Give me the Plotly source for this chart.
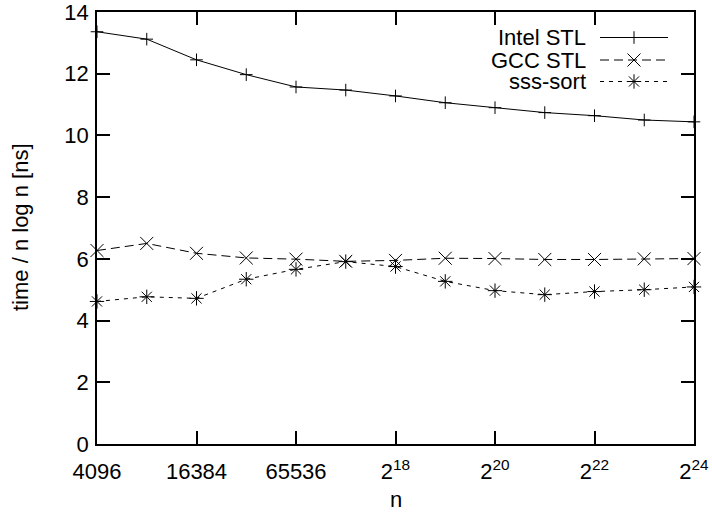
import math
import plotly.graph_objects as go

# ---- data ----
log2_n = [12, 13, 14, 15, 16, 17, 18, 19, 20, 21, 22, 23, 24]
n_values = [2 ** k for k in log2_n]
intel_stl = [13.36, 13.12, 12.45, 11.97, 11.57, 11.47, 11.28, 11.06, 10.90, 10.74, 10.64, 10.50, 10.44]
gcc_stl = [6.27, 6.50, 6.18, 6.03, 5.99, 5.92, 5.95, 6.02, 6.01, 5.98, 5.98, 6.00, 6.01]
sss_sort = [4.62, 4.77, 4.72, 5.34, 5.66, 5.91, 5.75, 5.27, 4.97, 4.84, 4.94, 5.00, 5.09]

x_tickvals = [4096, 16384, 65536, 2 ** 18, 2 ** 20, 2 ** 22, 2 ** 24]
x_ticktext = ["4096", "16384", "65536", "2<sup>18</sup>", "2<sup>20</sup>", "2<sup>22</sup>", "2<sup>24</sup>"]
y_tickvals = [0, 2, 4, 6, 8, 10, 12, 14]

series = [
    ("Intel STL", intel_stl, "solid", "cross-thin", 9),
    ("GCC STL", gcc_stl, "9px,5px", "x-thin", 13),
    ("sss-sort", sss_sort, "4px,5px", "asterisk", 12),
]

W, H = 712, 512
L, R, T, B = 97, 18, 12, 68
PW, PH = W - L - R, H - T - B
FONT = "Liberation Sans, Arial, Helvetica, sans-serif"
FS = 22

fig = go.Figure()
for name, vals, dash, sym, sz in series:
    fig.add_trace(go.Scatter(
        x=n_values, y=vals, mode="lines+markers", name=name,
        line=dict(color="black", width=1, dash=dash),
        marker=dict(symbol=sym, size=sz, color="black",
                    line=dict(color="black", width=1)),
        showlegend=False, cliponaxis=False,
    ))

# ---- gnuplot-style legend on a pixel overlay axis ----
leg_y = [37.5, 60, 81.5]
for (name, vals, dash, sym, sz), yy in zip(series, leg_y):
    fig.add_trace(go.Scatter(
        x=[600, 668], y=[yy, yy], mode="lines", xaxis="x2", yaxis="y2",
        line=dict(color="black", width=1, dash=dash), showlegend=False, hoverinfo="skip",
    ))
    fig.add_trace(go.Scatter(
        x=[634], y=[yy], mode="markers", xaxis="x2", yaxis="y2",
        marker=dict(symbol=sym, size=sz, color="black", line=dict(color="black", width=1)),
        showlegend=False, hoverinfo="skip",
    ))
    fig.add_annotation(x=588, y=yy, xref="x2", yref="y2", text=name, showarrow=False,
                       xanchor="right", yanchor="middle",
                       font=dict(family=FONT, size=FS, color="black"))

# axis titles placed as gnuplot does
fig.add_annotation(x=0.5, y=(H - B - 500) / PH, xref="paper", yref="paper", text="n",
                   showarrow=False, xanchor="center", yanchor="middle",
                   font=dict(family=FONT, size=FS, color="black"))
fig.add_annotation(x=(20 - L) / PW, y=(H - B - 227) / PH, xref="paper", yref="paper",
                   text="time / n log n [ns]", showarrow=False, textangle=-90,
                   xanchor="center", yanchor="middle",
                   font=dict(family=FONT, size=FS, color="black"))

axis_common = dict(
    showline=True, linecolor="black", linewidth=1.5, mirror="ticks",
    ticks="inside", ticklen=13, tickwidth=1.5, tickcolor="black",
    showgrid=False, zeroline=False, automargin=False, ticklabeloverflow="allow",
    tickfont=dict(family=FONT, size=FS, color="black"),
)

eps = 1e-7
fig.update_layout(
    width=W, height=H, autosize=False,
    margin=dict(l=L, r=R, t=T, b=B, pad=0),
    paper_bgcolor="white", plot_bgcolor="white",
    font=dict(family=FONT, size=FS, color="black"),
    xaxis=dict(type="log", range=[math.log10(4096) - eps, math.log10(2 ** 24) + eps],
               tickvals=x_tickvals, ticktext=x_ticktext, ticklabelstandoff=7,
               **axis_common),
    yaxis=dict(range=[0, 14], tickvals=y_tickvals, ticklabelstandoff=2,
               **axis_common),
    xaxis2=dict(overlaying="x", range=[L, W - R], visible=False, showgrid=False, zeroline=False),
    yaxis2=dict(overlaying="y", range=[H - B, T], visible=False, showgrid=False, zeroline=False),
)

fig.write_html("out.html", config={"responsive": False, "displayModeBar": False},
               post_script="document.body.style.margin='0';document.body.style.overflow='hidden';")
